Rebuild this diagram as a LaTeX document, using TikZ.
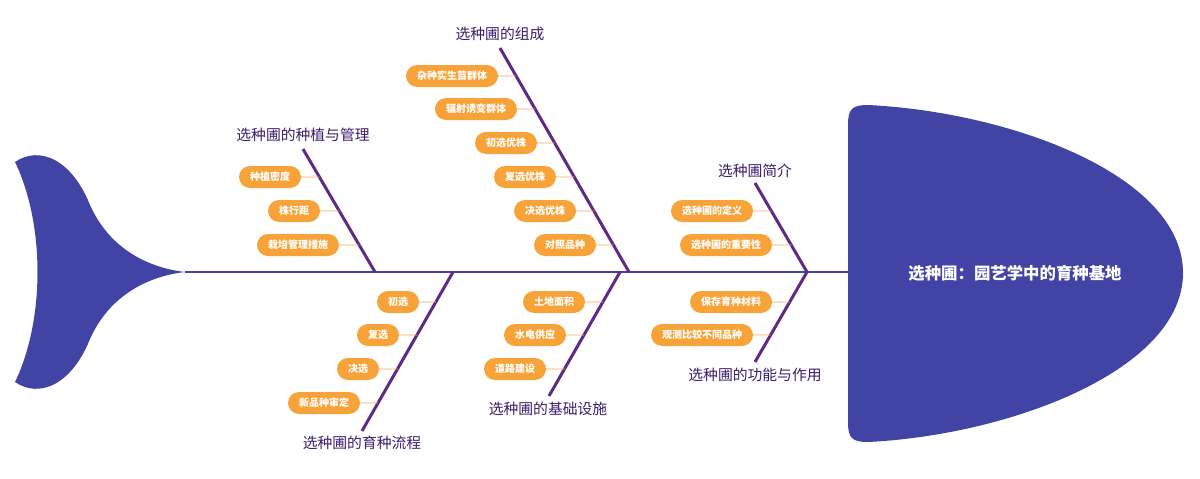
\documentclass[tikz,border=0pt]{standalone}
\usepackage{fontspec}
\setmainfont{Noto Sans CJK SC}
\usepackage{xcolor}
\usetikzlibrary{calc}

\definecolor{fishblue}{RGB}{65,67,165}
\definecolor{bonepurple}{RGB}{94,42,132}
\definecolor{labelpurple}{RGB}{59,28,107}
\definecolor{boxorange}{RGB}{248,163,58}
\definecolor{twigorange}{RGB}{242,170,90}

\begin{document}
\begin{tikzpicture}[x=1pt,y=-1pt,
    bone/.style={bonepurple, line width=3pt},
    twig/.style={twigorange, line width=0.8pt},
    item/.style={fill=boxorange, text=white, rounded corners=11pt, minimum height=22pt,
        inner xsep=11pt, inner ysep=0pt, font=\bfseries\fontsize{10}{11}\selectfont},
    cat/.style={text=labelpurple, font=\fontsize{14.8}{16}\selectfont, inner sep=1pt}]
    \useasboundingbox (0,0) rectangle (1200,479);
    % tail and head
    \fill[fishblue] (15,162) .. controls (40,145) and (72,160) .. (90,205)
        .. controls (110,250) and (150,268) .. (185,272)
        .. controls (150,276) and (110,294) .. (90,339)
        .. controls (72,384) and (40,399) .. (15,382)
        .. controls (45,320) and (45,224) .. (15,162) -- cycle;
    \fill[fishblue] (868,105) .. controls (1010,112) and (1183,175) .. (1183,273)
        .. controls (1183,370) and (1010,435) .. (868,442)
        .. controls (852,442) and (848,438) .. (848,422) -- (848,125)
        .. controls (848,109) and (852,105) .. (868,105) -- cycle;
    \node[text=white, font=\bfseries\fontsize{16.4}{18}\selectfont] (head) at (1015,273) {选种圃：园艺学中的育种基地};
    \coordinate (tailtip) at (185,272);
    \coordinate (headL) at (848,272);
    \draw[fishblue, line width=1.2pt] (tailtip) -- (headL);
    % bones
    \coordinate (b1t) at (303,149); \coordinate (b1b) at (375,272);
    \coordinate (b2t) at (500,48);  \coordinate (b2b) at (629,272);
    \coordinate (b3t) at (755,183); \coordinate (b3b) at (807,272);
    \coordinate (b4t) at (453,272); \coordinate (b4b) at (362,431);
    \coordinate (b5t) at (620,272); \coordinate (b5b) at (549,396);
    \coordinate (b6t) at (807,272); \coordinate (b6b) at (755,362);
    \foreach \b in {1,...,6}
        \draw[bone] (b\b t) -- (b\b b);
    \node[cat] (l1) at (303,135) {选种圃的种植与管理};
    \node[cat] (l2) at (500,34) {选种圃的组成};
    \node[cat] (l3) at (755,171) {选种圃简介};
    \node[cat] (l4) at (362,443) {选种圃的育种流程};
    \node[cat] (l5) at (548,409) {选种圃的基础设施};
    \node[cat] (l6) at (755,375) {选种圃的功能与作用};
    % items
    \node[item] (i11) at (270,177) {种植密度};
    \node[item] (i12) at (294,211) {株行距};
    \node[item] (i13) at (298,245) {栽培管理措施};
    \node[item] (i21) at (452,76) {杂种实生苗群体};
    \node[item] (i22) at (476,109) {辐射诱变群体};
    \node[item] (i23) at (506,143) {初选优株};
    \node[item] (i24) at (525,177) {复选优株};
    \node[item] (i25) at (545,211) {决选优株};
    \node[item] (i26) at (565,245) {对照品种};
    \node[item] (i31) at (712,211) {选种圃的定义};
    \node[item] (i32) at (726,245) {选种圃的重要性};
    \node[item] (i41) at (398,302) {初选};
    \node[item] (i42) at (378,335) {复选};
    \node[item] (i43) at (358,369) {决选};
    \node[item] (i44) at (324,403) {新品种审定};
    \node[item] (i51) at (554,302) {土地面积};
    \node[item] (i52) at (535,335) {水电供应};
    \node[item] (i53) at (515,369) {道路建设};
    \node[item] (i61) at (731,302) {保存育种材料};
    \node[item] (i62) at (702,335) {观测比较不同品种};
    % twigs
    \foreach \n/\b in {i11/1,i12/1,i13/1,i21/2,i22/2,i23/2,i24/2,i25/2,i26/2,
                        i31/3,i32/3,i41/4,i42/4,i43/4,i44/4,i51/5,i52/5,i53/5,i61/6,i62/6}
        \draw[twig] (\n.east) -- (intersection of \n.east--\n.west and b\b t--b\b b);
\end{tikzpicture}
\end{document}
